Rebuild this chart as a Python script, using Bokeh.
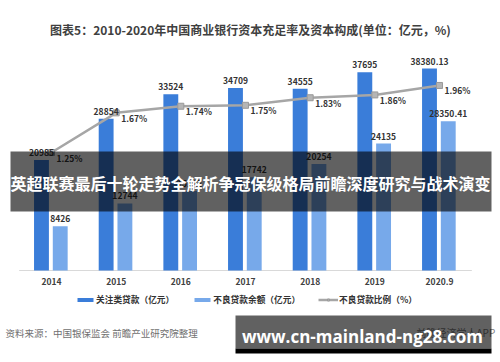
from bokeh.plotting import figure
from bokeh.models import (Range1d, ColumnDataSource, Label, BoxAnnotation, Legend, LegendItem)
from bokeh.core.properties import value
from bokeh.embed import file_html
from bokeh.resources import INLINE

# ---------------- data ----------------
years = ["2014", "2015", "2016", "2017", "2018", "2019", "2020.9"]
special_mention = [20985, 28854, 33524, 34709, 34555, 37695, 38380.13]
npl_balance = [8426, 12744, 15122, 17742, 20254, 24135, 28350.41]
npl_ratio = [1.25, 1.67, 1.74, 1.75, 1.83, 1.86, 1.96]

title_text = "图表5：2010-2020年中国商业银行资本充足率及资本构成(单位：亿元，%)"
legend_labels = ["关注类贷款（亿元）", "不良贷款余额（亿元）", "不良贷款比例（%）"]
source_text = "资料来源：中国银保监会 前瞻产业研究院整理"
banner_text = "英超联赛最后十轮走势全解析争冠保级格局前瞻深度研究与战术演变"
url_text = "www.cn-mainland-ng28.com"
app_text = "前瞻经济学人APP"


def fmt(v):
    return str(int(v)) if float(v).is_integer() else f"{v:.2f}"


FONT = "Noto Sans CJK SC"
DARK = "#3a7dd9"
LIGHT = "#77a9ea"
GREY = "#a6a6a6"
TXT = "#333333"

n = len(years)
idx = list(range(n))
OFF_A, OFF_B, BW = -0.155, 0.135, 0.23

src = ColumnDataSource(dict(
    i=idx,
    ia=[k + OFF_A for k in idx],
    ib=[k + OFF_B for k in idx],
    year=years,
    sm=special_mention,
    npl=npl_balance,
    ratio=npl_ratio,
    zero=[0] * n,
    sm_lbl=[fmt(v) for v in special_mention],
    npl_lbl=[fmt(v) for v in npl_balance],
    ratio_lbl=[f"{r:.2f}%" for r in npl_ratio],
))

W, H = 500, 362
p = figure(width=W, height=H,
           x_range=Range1d(-0.7886, 6.943), y_range=Range1d(-17489, 51327),
           output_backend="svg", toolbar_location=None,
           x_axis_location=None, y_axis_location=None, title=None,
           min_border_left=0, min_border_right=0, min_border_top=0, min_border_bottom=0)
p.extra_y_ranges = {"r": Range1d(-0.9746, 2.8602)}
p.outline_line_color = None
p.xgrid.visible = False
p.ygrid.visible = False
p.background_fill_color = "white"
p.border_fill_color = "white"

# category baseline
p.segment(x0=[-0.5], y0=[0], x1=[n - 0.5], y1=[0], line_color="#d9d9d9", line_width=1)

# bars
b1 = p.vbar(x="ia", top="sm", width=BW, source=src, fill_color=DARK, line_color=None)
b2 = p.vbar(x="ib", top="npl", width=BW, source=src, fill_color=LIGHT, line_color=None)

# ratio line
ln = p.line(x="i", y="ratio", source=src, y_range_name="r", line_color=GREY, line_width=2.5)
mk = p.scatter(x="i", y="ratio", source=src, y_range_name="r", marker="square", size=6,
               fill_color="#b5b5b5", line_color="#9a9a9a")

# category tick labels
p.text(x="i", y="zero", text="year", source=src, text_align="center", text_baseline="middle",
       y_offset=11, text_font=value(FONT), text_font_size="8.5px", text_font_style="bold",
       text_color="#404040")

# value labels
common = dict(source=src, text_font=value(FONT), text_font_size="8.5px",
              text_font_style="bold", text_color=TXT)
p.text(x="ia", y="sm", text="sm_lbl", text_align="center", text_baseline="bottom",
       y_offset=-4, **common)
p.text(x="ib", y="npl", text="npl_lbl", text_align="center", text_baseline="bottom",
       y_offset=-4, **common)
p.text(x="i", y="ratio", text="ratio_lbl", y_range_name="r", text_align="left",
       text_baseline="middle", x_offset=5, y_offset=5, **common)

# legend
legend = Legend(items=[
    LegendItem(label=legend_labels[0], renderers=[b1]),
    LegendItem(label=legend_labels[1], renderers=[b2]),
    LegendItem(label=legend_labels[2], renderers=[ln, mk]),
], orientation="horizontal", location=(75, 56), padding=0, margin=0, spacing=18,
    label_standoff=1, glyph_width=20, glyph_height=5, label_height=11,
    label_text_font=FONT, label_text_font_size="8.7px", label_text_font_style="bold",
    label_text_color=TXT, background_fill_alpha=0, border_line_color=None)
p.add_layout(legend, "center")


# screen-unit helpers (window coordinates -> frame-relative, y up)
def sx(wx):
    return wx


def sy(wy):
    return H - wy


def lab(wx, wy, text, size, color, style="normal", align="left", font=FONT, level="annotation"):
    p.add_layout(Label(x=sx(wx), y=sy(wy), x_units="screen", y_units="screen", text=text,
                       text_align=align, text_baseline="middle", text_font=font,
                       text_font_size=size, text_font_style=style, text_color=color,
                       level=level))


def box(l, r, t, b, alpha):
    p.add_layout(BoxAnnotation(left=sx(l), right=sx(r), top=sy(t), bottom=sy(b),
                               left_units="screen", right_units="screen", top_units="screen",
                               bottom_units="screen", fill_color="black", fill_alpha=alpha,
                               line_color=None, level="overlay"))


lab(250, 29, title_text, "12px", "#404040", "bold", "center")
lab(5, 332, source_text, "9.5px", "#707070")
lab(416, 332, app_text, "10px", "#808080")

# overlay banners
box(10, 491, 151, 211, 0.62)
box(235, 491, 315, 348, 0.62)
box(235, 491, 348, 353, 1.0)
lab(250, 182, banner_text, "16px", "white", "bold", "center", level="overlay")
lab(362, 336, url_text, "17px", "white", "bold", "center", font="Open Sans", level="overlay")

open("out.html", "w").write(file_html(p, INLINE))
